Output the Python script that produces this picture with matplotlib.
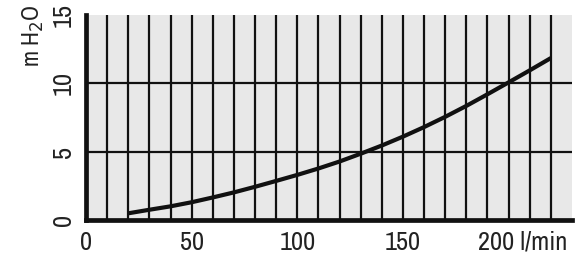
import matplotlib
matplotlib.use("Agg")
import matplotlib.pyplot as plt
import matplotlib.transforms as mtransforms
from matplotlib import font_manager

# the reference uses a condensed grotesque; take one if installed
narrow = sorted({f.name for f in font_manager.fontManager.ttflist
                 if 'Narrow' in f.name or 'Condensed' in f.name})
if narrow:
    plt.rcParams['font.family'] = [narrow[0], 'Liberation Sans', 'DejaVu Sans']
    fs = 19
else:
    plt.rcParams['font.family'] = ['Liberation Sans', 'DejaVu Sans']
    fs = 17

# flow (l/min) vs head (m H2O)
flow = [20, 30, 40, 50, 60, 70, 80, 90, 100, 110, 120, 130, 140, 150,
        160, 170, 180, 190, 200, 210, 220]
head = [0.49, 0.75, 1.0, 1.3, 1.65, 2.02, 2.43, 2.86, 3.3, 3.77, 4.28, 4.85,
        5.45, 6.1, 6.8, 7.55, 8.35, 9.2, 10.07, 10.95, 11.85]

x_ticks = [0, 50, 100, 150]
x_labels = ['0', '50', '100', '150']
y_ticks = [0, 5, 10, 15]
y_labels = ['0', '5', '10', '15']
x_grid = list(range(10, 230, 10))
y_grid = [5, 10]

fig = plt.figure(figsize=(5.84, 2.54), dpi=100)
ax = fig.add_axes([86 / 584, 1 - 220 / 254, (572 - 86) / 584, (220 - 15) / 254])
ax.set_facecolor('#e8e8e8')
ax.set_xlim(0, 230)
ax.set_ylim(0, 15)

for gx in x_grid:
    ax.axvline(gx, color='#111111', lw=1.6, zorder=1)
for gy in y_grid:
    ax.axhline(gy, color='#111111', lw=1.6, zorder=1)

ax.plot(flow, head, color='#111111', lw=3.0, solid_capstyle='butt', zorder=3)

for s in ['top', 'right']:
    ax.spines[s].set_visible(False)
for s in ['left', 'bottom']:
    ax.spines[s].set_linewidth(3.4)
    ax.spines[s].set_color('#111111')
    ax.spines[s].set_zorder(4)

ax.set_xticks(x_ticks)
ax.set_xticklabels(x_labels, fontsize=fs, color='#222222')
ax.set_yticks(y_ticks)
ax.set_yticklabels(y_labels, fontsize=fs, color='#222222', rotation=90, va='center')
ax.tick_params(length=0, pad=8)

trans = mtransforms.blended_transform_factory(ax.transData, ax.transAxes)
ax.text(185.5, -0.05, '200 l/min', transform=trans, ha='left', va='top',
        fontsize=fs, color='#222222')

fig.text(33 / 584, 1 - 36 / 254, 'm H$_2$O', rotation=90, ha='center', va='center',
         fontsize=fs - 2, color='#222222')

fig.savefig('out.png', dpi=100)
